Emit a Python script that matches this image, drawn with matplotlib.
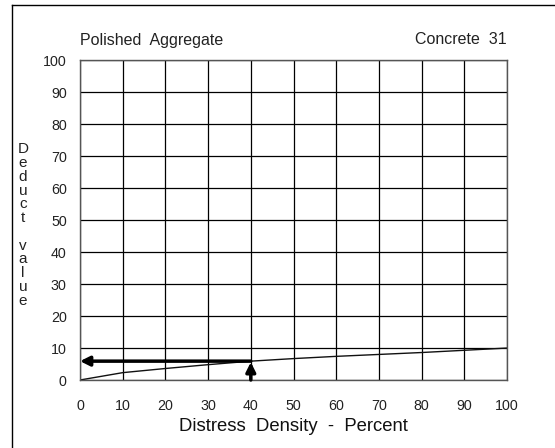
import matplotlib
matplotlib.use("Agg")
import matplotlib.pyplot as plt

plt.rcParams['font.family'] = ['Liberation Sans', 'DejaVu Sans']

# curve
density = [0, 10, 20, 30, 40, 50, 60, 70, 80, 90, 100]
deduct = [0, 2.3, 3.6, 4.8, 5.9, 6.7, 7.4, 8.0, 8.6, 9.3, 10.0]

# worked example: 40 % density -> deduct value ~6
example_density = 40
example_deduct = 5.9

ticks = list(range(0, 101, 10))

fig = plt.figure(figsize=(5.55, 4.48), dpi=100)
ax = fig.add_axes([80 / 555, 1 - 380 / 448, 427 / 555, 319.5 / 448])

ax.plot(density, deduct, color='#111111', linewidth=1.0)

# arrows
ax.annotate('', xy=(example_density, example_deduct - 0.3), xytext=(example_density, 0),
            arrowprops=dict(arrowstyle='-|>', color='black', lw=2.5,
                            mutation_scale=14, shrinkA=0, shrinkB=0))
ax.annotate('', xy=(0, example_deduct), xytext=(example_density, example_deduct),
            arrowprops=dict(arrowstyle='-|>', color='black', lw=2.5,
                            mutation_scale=14, shrinkA=0, shrinkB=0))

ax.set_xlim(0, 100)
ax.set_ylim(0, 100)
ax.set_xticks(ticks)
ax.set_yticks(ticks)
ax.tick_params(length=0, labelsize=10.3, colors='#222222')
ax.tick_params(axis='x', pad=14)
ax.tick_params(axis='y', pad=9.5)
ax.grid(True, color='black', linewidth=0.9)
ax.set_axisbelow(True)
for s in ax.spines.values():
    s.set_color('#555555')
    s.set_linewidth(1.0)

ax.set_xlabel('Distress  Density  -  Percent', fontsize=13.3, color='#111111', labelpad=3)

fig.text(80 / 555, 1 - 40 / 448, 'Polished  Aggregate', fontsize=11.5,
         color='#222222', ha='left', va='center')
fig.text(507 / 555, 1 - 40 / 448, 'Concrete  31', fontsize=11.5,
         color='#222222', ha='right', va='center')

fig.text(23 / 555, 1 - 225 / 448, '\n'.join('Deduct value'), fontsize=11,
         color='#222222', ha='center', va='center', linespacing=0.98)

# frame lines along top and left
fig.add_artist(plt.Line2D([12 / 555, 1], [1 - 5 / 448, 1 - 5 / 448],
                          color='black', linewidth=1.0, transform=fig.transFigure))
fig.add_artist(plt.Line2D([12 / 555, 12 / 555], [0, 1 - 5 / 448],
                          color='black', linewidth=1.0, transform=fig.transFigure))

fig.savefig('out.png', dpi=100)
